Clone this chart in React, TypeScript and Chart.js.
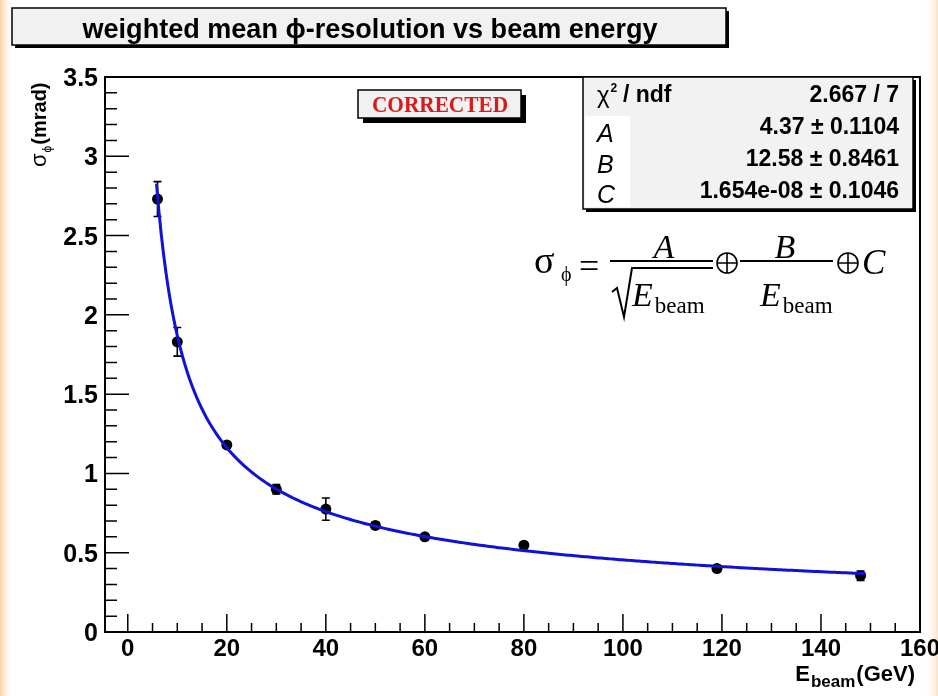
import { useEffect, useRef } from "react";
import { Chart, registerables } from "chart.js";
Chart.register(...registerables);

// ---- data ----
const energies = [6, 10, 20, 30, 40, 50, 60, 80, 119, 148];
const sigmaVals = [2.73, 1.83, 1.18, 0.9, 0.775, 0.672, 0.6, 0.547, 0.4, 0.355];
const sigmaErrs = [0.11, 0.09, 0.02, 0.03, 0.07, 0.02, 0.02, 0.02, 0.02, 0.03];
const fitA = 4.37;
const fitB = 12.58;
const fitC = 1.654e-8;
const fitRange = [5.8, 149];
const xTickValues = [0, 20, 40, 60, 80, 100, 120, 140, 160];
const xTickLabels = ["0", "20", "40", "60", "80", "100", "120", "140", "160"];
const yTickValues = [0, 0.5, 1, 1.5, 2, 2.5, 3, 3.5];
const yTickLabels = ["0", "0.5", "1", "1.5", "2", "2.5", "3", "3.5"];
const statNames = ["A", "B", "C"];
const statValues = ["4.37 \u00b1 0.1104", "12.58 \u00b1 0.8461", "1.654e-08 \u00b1 0.1046"];
const chi2Text = "2.667 / 7";
const titleText = "weighted mean \u03d5-resolution vs beam energy";

const X_MIN = -4.6;
const X_MAX = 160;
const Y_MIN = 0;
const Y_MAX = 3.5;

function fitCurve() {
  const pts: { x: number; y: number }[] = [];
  const n = 300;
  for (let i = 0; i <= n; i++) {
    const e = fitRange[0] + ((fitRange[1] - fitRange[0]) * i) / n;
    const v = Math.sqrt((fitA * fitA) / e + (fitB * fitB) / (e * e) + fitC * fitC);
    pts.push({ x: e, y: v });
  }
  return pts;
}

const SANS = '"Liberation Sans", Arial, Helvetica, sans-serif';
const SERIF = '"Liberation Serif", "Times New Roman", serif';

function txt(ctx: CanvasRenderingContext2D, s: string, x: number, y: number, font: string, align: CanvasTextAlign = "left", color = "#000", sx = 1) {
  ctx.save();
  ctx.font = font;
  ctx.fillStyle = color;
  ctx.textAlign = align;
  ctx.textBaseline = "alphabetic";
  ctx.translate(x, y);
  ctx.scale(sx, 1);
  ctx.fillText(s, 0, 0);
  ctx.restore();
}

function fitTxt(ctx: CanvasRenderingContext2D, s: string, x: number, y: number, font: string, width: number, align: CanvasTextAlign = "left", color = "#000") {
  ctx.save();
  ctx.font = font;
  const w = ctx.measureText(s).width;
  ctx.restore();
  txt(ctx, s, x, y, font, align, color, width / w);
}

function shadowBox(ctx: CanvasRenderingContext2D, x: number, y: number, w: number, h: number, fill: string, sh: number, lw = 1.5) {
  ctx.save();
  ctx.fillStyle = "#000";
  ctx.fillRect(x + sh, y + sh, w, h);
  ctx.fillStyle = fill;
  ctx.fillRect(x, y, w, h);
  ctx.strokeStyle = "#000";
  ctx.lineWidth = lw;
  ctx.strokeRect(x, y, w, h);
  ctx.restore();
}

function oplus(ctx: CanvasRenderingContext2D, cx: number, cy: number, r: number) {
  ctx.save();
  ctx.strokeStyle = "#000";
  ctx.lineWidth = 1.6;
  ctx.beginPath();
  ctx.arc(cx, cy, r, 0, Math.PI * 2);
  ctx.moveTo(cx - r, cy);
  ctx.lineTo(cx + r, cy);
  ctx.moveTo(cx, cy - r);
  ctx.lineTo(cx, cy + r);
  ctx.stroke();
  ctx.restore();
}

function eBeam(ctx: CanvasRenderingContext2D, x: number, y: number) {
  ctx.save();
  ctx.font = `italic 34px ${SERIF}`;
  ctx.fillStyle = "#000";
  ctx.fillText("E", x, y);
  const w = ctx.measureText("E").width;
  ctx.font = `23px ${SERIF}`;
  ctx.fillText("beam", x + w + 2, y + 7);
  ctx.restore();
}

const overlay = {
  id: "rootOverlay",
  beforeDraw(chart: any) {
    const ctx: CanvasRenderingContext2D = chart.ctx;
    const W = chart.width;
    const H = chart.height;
    ctx.save();
    ctx.fillStyle = "#ffffff";
    ctx.fillRect(0, 0, W, H);
    let g = ctx.createLinearGradient(0, 0, 14, 0);
    g.addColorStop(0, "rgba(248,196,130,0.75)");
    g.addColorStop(1, "rgba(255,255,255,0)");
    ctx.fillStyle = g;
    ctx.fillRect(0, 0, 14, H);
    g = ctx.createLinearGradient(W - 14, 0, W, 0);
    g.addColorStop(0, "rgba(255,255,255,0)");
    g.addColorStop(1, "rgba(250,210,160,0.6)");
    ctx.fillStyle = g;
    ctx.fillRect(W - 14, 0, 14, H);
    ctx.restore();

    // title box
    shadowBox(ctx, 12, 8, 714, 37, "#f1f1f1", 3);
    fitTxt(ctx, titleText, 370, 38, `bold 28px ${SANS}`, 575, "center");
  },
  beforeDatasetsDraw(chart: any) {
    const ctx: CanvasRenderingContext2D = chart.ctx;
    const xs = chart.scales.x;
    const ys = chart.scales.y;
    ctx.save();
    ctx.strokeStyle = "#000";
    ctx.lineWidth = 1.6;
    energies.forEach((e, i) => {
      const px = xs.getPixelForValue(e);
      const top = ys.getPixelForValue(sigmaVals[i] + sigmaErrs[i]);
      const bot = ys.getPixelForValue(sigmaVals[i] - sigmaErrs[i]);
      ctx.beginPath();
      ctx.moveTo(px, top);
      ctx.lineTo(px, bot);
      ctx.moveTo(px - 4, top);
      ctx.lineTo(px + 4, top);
      ctx.moveTo(px - 4, bot);
      ctx.lineTo(px + 4, bot);
      ctx.stroke();
    });
    ctx.restore();
  },
  afterDraw(chart: any) {
    const ctx: CanvasRenderingContext2D = chart.ctx;
    const xs = chart.scales.x;
    const ys = chart.scales.y;
    const a = chart.chartArea;

    // ticks
    ctx.save();
    ctx.strokeStyle = "#000";
    ctx.lineWidth = 1.5;
    ctx.beginPath();
    for (let v = 0; v <= 160.001; v += 5) {
      const px = xs.getPixelForValue(v);
      const major = Math.abs(v % 20) < 1e-6;
      ctx.moveTo(px, a.bottom);
      ctx.lineTo(px, a.bottom - (major ? 18 : 9));
    }
    for (let v = 0; v <= 3.5001; v += 0.1) {
      const py = ys.getPixelForValue(v);
      const major = Math.abs(Math.round(v * 10) % 5) === 0;
      ctx.moveTo(a.left, py);
      ctx.lineTo(a.left + (major ? 24 : 12), py);
    }
    ctx.stroke();
    // frame
    ctx.lineWidth = 2;
    ctx.strokeRect(a.left, a.top, a.right - a.left, a.bottom - a.top);
    ctx.restore();

    // tick labels
    xTickValues.forEach((v, i) => {
      txt(ctx, xTickLabels[i], xs.getPixelForValue(v), a.bottom + 24, `bold 24px ${SANS}`, "center");
    });
    yTickValues.forEach((v, i) => {
      txt(ctx, yTickLabels[i], a.left - 7, ys.getPixelForValue(v) + 9, `bold 25px ${SANS}`, "right");
    });

    // axis titles
    ctx.save();
    ctx.font = `bold 22px ${SANS}`;
    const wG = ctx.measureText("(GeV)").width;
    ctx.font = `bold 17px ${SANS}`;
    const wb = ctx.measureText("beam").width;
    ctx.restore();
    const xr = 915;
    const baseX = 681;
    txt(ctx, "(GeV)", xr, baseX, `bold 22px ${SANS}`, "right");
    txt(ctx, "beam", xr - wG - 1, baseX + 6, `bold 17px ${SANS}`, "right");
    txt(ctx, "E", xr - wG - 1 - wb - 1, baseX, `bold 22px ${SANS}`, "right");

    // y: sigma_phi(mrad), rotated
    ctx.save();
    ctx.translate(46, 167);
    ctx.rotate(-Math.PI / 2);
    ctx.font = `22px ${SANS}`;
    ctx.fillStyle = "#000";
    ctx.fillText("\u03c3", 0, 0);
    const ws = ctx.measureText("\u03c3").width;
    ctx.font = `12px ${SANS}`;
    ctx.fillText("\u03d5", ws + 1, 5);
    const wp = ctx.measureText("\u03d5").width;
    ctx.font = `bold 20px ${SANS}`;
    ctx.fillText("(mrad)", ws + wp + 2, 0);
    ctx.restore();

    // CORRECTED label
    shadowBox(ctx, 358, 90, 163, 28, "#f1f1f1", 5, 1.5);
    fitTxt(ctx, "CORRECTED", 440, 112, `bold 23px ${SERIF}`, 136, "center", "#dc1a1a");

    // stats box
    shadowBox(ctx, 583, 77, 330, 132, "#f2f2f2", 3, 1.5);
    ctx.save();
    ctx.fillStyle = "#ffffff";
    ctx.fillRect(585, 116, 45, 91);
    ctx.restore();
    ctx.save();
    ctx.font = `24px ${SANS}`;
    ctx.fillStyle = "#000";
    ctx.fillText("\u03c7", 597, 103);
    const wc = ctx.measureText("\u03c7").width;
    ctx.font = `bold 12px ${SANS}`;
    ctx.fillText("2", 597 + wc + 1, 92);
    ctx.font = `bold 23px ${SANS}`;
    ctx.fillText(" / ndf", 597 + wc + 7, 102);
    ctx.restore();
    txt(ctx, chi2Text, 899, 102, `bold 23px ${SANS}`, "right");
    const rowBase = [134, 166, 198];
    const nameBase = [142, 173, 203];
    statNames.forEach((n, i) => {
      txt(ctx, n, 597, nameBase[i], `italic 25px ${SANS}`, "left");
      txt(ctx, statValues[i], 899, rowBase[i], `bold 23px ${SANS}`, "right");
    });

    // formula
    const F = SERIF;
    txt(ctx, "\u03c3", 534, 273, `38px ${F}`);
    txt(ctx, "\u03d5", 561, 281, `20px ${F}`);
    txt(ctx, "=", 579, 278, `36px ${F}`);
    ctx.save();
    ctx.strokeStyle = "#000";
    ctx.lineWidth = 2;
    ctx.beginPath();
    ctx.moveTo(610, 261);
    ctx.lineTo(713, 261);
    ctx.moveTo(740, 261);
    ctx.lineTo(833, 261);
    // sqrt
    ctx.moveTo(612, 292);
    ctx.lineTo(617, 288);
    ctx.lineTo(624, 317);
    ctx.lineTo(632, 268);
    ctx.lineTo(713, 268);
    ctx.stroke();
    ctx.restore();
    txt(ctx, "A", 664, 258, `italic 34px ${F}`, "center");
    eBeam(ctx, 632, 306);
    oplus(ctx, 727, 263, 10);
    txt(ctx, "B", 785, 258, `italic 34px ${F}`, "center");
    eBeam(ctx, 760, 306);
    oplus(ctx, 848, 263, 10);
    txt(ctx, "C", 862, 274, `italic 35px ${F}`);
  },
};

export default function App() {
  const ref = useRef<HTMLCanvasElement | null>(null);
  useEffect(() => {
    if (!ref.current) return;
    const pts = energies.map((e, i) => ({ x: e, y: sigmaVals[i] }));
    const chart = new Chart(ref.current, {
      type: "scatter",
      data: {
        datasets: [
          {
            label: "fit",
            data: fitCurve(),
            showLine: true,
            borderColor: "#1212d6",
            borderWidth: 3,
            pointRadius: 0,
            fill: false,
            order: 0,
          } as any,
          {
            label: "data",
            data: pts,
            pointRadius: 5.5,
            pointBackgroundColor: "#000",
            pointBorderColor: "#000",
            borderWidth: 0,
            order: 1,
          } as any,
        ],
      },
      options: {
        responsive: false,
        animation: false,
        devicePixelRatio: 1,
        layout: { padding: { left: 105, top: 77, right: 18, bottom: 64 } },
        plugins: { legend: { display: false }, tooltip: { enabled: false }, title: { display: false } },
        scales: {
          x: { type: "linear", min: X_MIN, max: X_MAX, display: false },
          y: { type: "linear", min: Y_MIN, max: Y_MAX, display: false },
        },
      },
      plugins: [overlay],
    });
    return () => chart.destroy();
  }, []);
  return (
    <div style={{ position: "fixed", left: 0, top: 0, width: 938, height: 696, background: "#fff" }}>
      <canvas ref={ref} width={938} height={696} style={{ width: 938, height: 696, display: "block" }} />
    </div>
  );
}
